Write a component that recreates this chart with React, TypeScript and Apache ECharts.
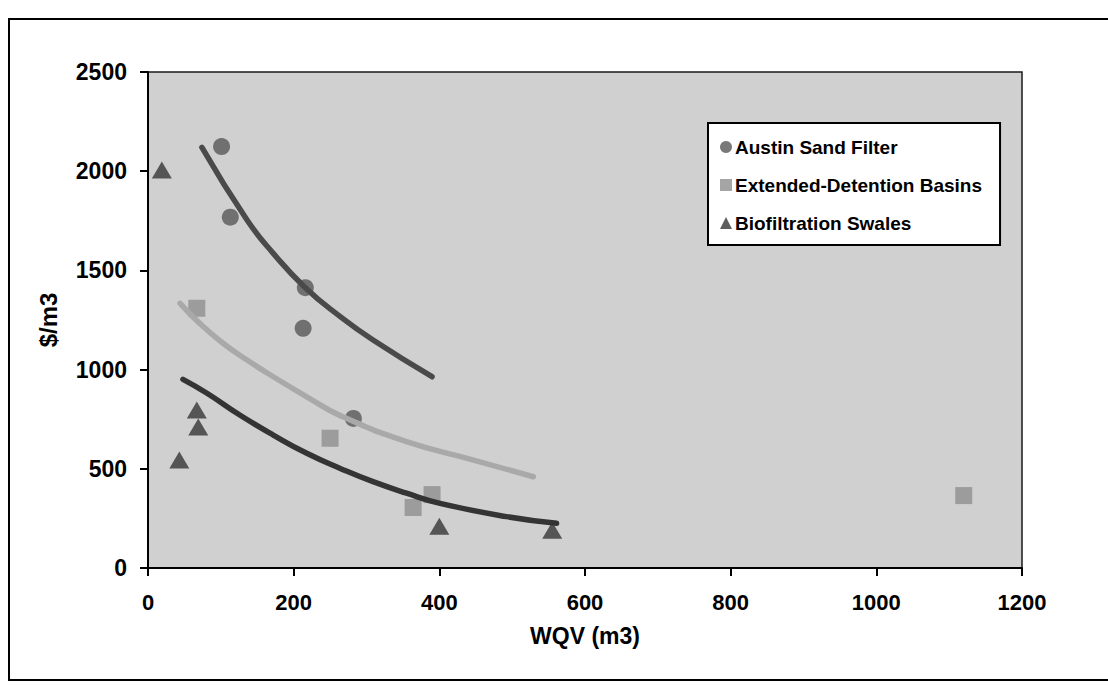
import React, { useEffect, useRef } from "react";
import * as echarts from "echarts";

// Measured cost per unit water-quality volume for three BMP types
const austinSandFilter: number[][] = [
  [101, 2124],
  [113, 1768],
  [216, 1413],
  [213, 1208],
  [282, 754],
];
const extendedDetention: number[][] = [
  [67, 1309],
  [250, 654],
  [364, 305],
  [390, 370],
  [1120, 365],
];
const biofiltrationSwales: number[][] = [
  [19, 2006],
  [67, 797],
  [69, 711],
  [43, 544],
  [400, 210],
  [555, 190],
];

// Fitted trend curves, sampled along each fit
const austinTrend: number[][] = [
  [74, 2120],
  [136, 1754],
  [172, 1586],
  [216, 1413],
  [264, 1267],
  [309, 1149],
  [390, 964],
];
const extendedTrend: number[][] = [
  [44, 1334],
  [71, 1233],
  [103, 1133],
  [136, 1048],
  [172, 964],
  [218, 863],
  [264, 768],
  [355, 637],
  [447, 544],
  [529, 460],
];
const biofiltrationTrend: number[][] = [
  [48, 951],
  [81, 881],
  [126, 771],
  [172, 670],
  [218, 578],
  [264, 502],
  [309, 435],
  [355, 377],
  [401, 326],
  [492, 259],
  [561, 225],
];

const seriesNames = [
  "Austin Sand Filter",
  "Extended-Detention Basins",
  "Biofiltration Swales",
];

const FONT = "'Liberation Sans', Arial, sans-serif";
const plainNumber = (v: number) => String(v);

export default function App() {
  const ref = useRef<HTMLDivElement>(null);

  useEffect(() => {
    if (!ref.current) return;
    const chart = echarts.init(ref.current, undefined, { renderer: "svg" });
    const trendLine = (data: number[][], color: string) => ({
      type: "line",
      data,
      smooth: true,
      showSymbol: false,
      symbol: "none",
      silent: true,
      z: 4,
      lineStyle: { color, width: 5.5, cap: "round" },
    });
    chart.setOption({
      animation: false,
      backgroundColor: "#ffffff",
      textStyle: { fontFamily: FONT, fontWeight: "bold", color: "#000" },
      graphic: [
        {
          type: "rect",
          z: 0,
          shape: { x: 9, y: 19, width: 1140, height: 661 },
          style: { fill: "none", stroke: "#000", lineWidth: 2 },
        },
      ],
      grid: {
        left: 148,
        top: 72,
        right: 86,
        bottom: 117,
        show: true,
        backgroundColor: "#d0d0d0",
        borderColor: "#1a1a1a",
        borderWidth: 1.5,
      },
      legend: {
        data: seriesNames,
        orient: "vertical",
        left: 708,
        top: 123,
        backgroundColor: "#ffffff",
        borderColor: "#000",
        borderWidth: 2,
        borderRadius: 0,
        padding: [14, 18, 12, 12],
        itemGap: 18,
        itemWidth: 12,
        itemHeight: 12,
        textStyle: {
          fontFamily: FONT,
          fontWeight: "bold",
          fontSize: 19,
          lineHeight: 20,
          color: "#000",
          padding: [0, 0, 0, -2],
        },
      },
      xAxis: {
        type: "value",
        min: 0,
        max: 1200,
        interval: 200,
        name: "WQV (m3)",
        nameLocation: "middle",
        nameGap: 56,
        nameTextStyle: { fontFamily: FONT, fontWeight: "bold", fontSize: 23, color: "#000" },
        axisLine: { show: true, lineStyle: { color: "#000", width: 2 } },
        axisTick: { show: true, inside: false, length: 8, lineStyle: { color: "#000", width: 2 } },
        axisLabel: {
          margin: 23,
          formatter: plainNumber,
          fontFamily: FONT,
          fontWeight: "bold",
          fontSize: 22,
          color: "#000",
        },
        splitLine: { show: false },
      },
      yAxis: {
        type: "value",
        min: 0,
        max: 2500,
        interval: 500,
        name: "$/m3",
        nameLocation: "middle",
        nameGap: 88,
        nameRotate: 90,
        nameTextStyle: { fontFamily: FONT, fontWeight: "bold", fontSize: 24, color: "#000" },
        axisLine: { show: true, lineStyle: { color: "#000", width: 2 } },
        axisTick: { show: true, inside: false, length: 8, lineStyle: { color: "#000", width: 2 } },
        axisLabel: {
          margin: 21,
          formatter: plainNumber,
          fontFamily: FONT,
          fontWeight: "bold",
          fontSize: 23,
          color: "#000",
        },
        splitLine: { show: false },
      },
      series: [
        {
          name: seriesNames[0],
          type: "scatter",
          data: austinSandFilter,
          symbol: "circle",
          symbolSize: 17,
          z: 3,
          itemStyle: { color: "#585858" },
        },
        {
          name: seriesNames[1],
          type: "scatter",
          data: extendedDetention,
          symbol: "rect",
          symbolSize: 17,
          z: 3,
          itemStyle: { color: "#8e8e8e" },
        },
        {
          name: seriesNames[2],
          type: "scatter",
          data: biofiltrationSwales,
          symbol: "triangle",
          symbolSize: [20, 17],
          z: 3,
          itemStyle: { color: "#363636" },
        },
        trendLine(austinTrend, "#4a4a4a"),
        trendLine(extendedTrend, "#a9a9a9"),
        trendLine(biofiltrationTrend, "#343434"),
      ],
    });
    return () => chart.dispose();
  }, []);

  return (
    <div
      ref={ref}
      style={{ position: "fixed", left: 0, top: 0, width: 1108, height: 685 }}
    />
  );
}
